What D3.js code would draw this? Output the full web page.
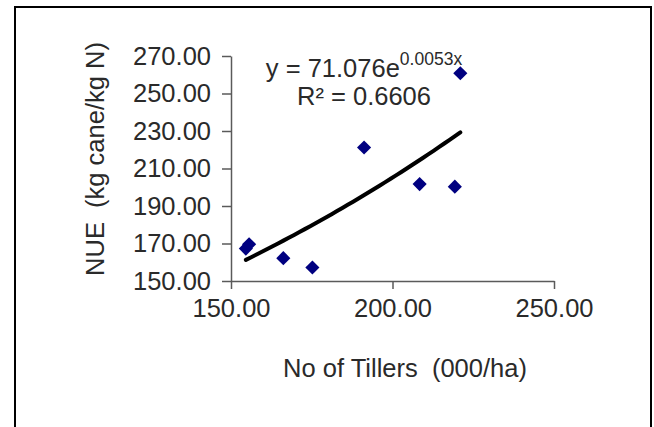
<!DOCTYPE html>
<html>
<head>
<meta charset="utf-8">
<script src="https://cdn.jsdelivr.net/npm/d3@7"></script>
<style>
  body { margin: 0; background: #fff; }
  text { font-family: "Liberation Sans", Arial, sans-serif; fill: #2a2a2a; white-space: pre; }
</style>
</head>
<body>
<div id="chart"></div>
<script>
// points
var tillers = [154.6, 155.6, 166.2, 175.2, 191.2, 208.4, 219.3, 221.0];
var nue     = [167.3, 169.6, 162.2, 157.2, 221.2, 201.7, 200.3, 260.8];

var x_ticks = [150, 200, 250];
var y_ticks = [150, 170, 190, 210, 230, 250, 270];

// exponential trendline printed on the chart: y = a * e^(b x)
var fit_a = 71.076;
var fit_b = 0.0053;
var fit_r2 = 0.6606;

var chart_width  = 654;
var chart_height = 427;

var svg = d3.select('#chart')
  .append('svg')
  .attr('width', chart_width)
  .attr('height', chart_height);

// frame
svg.append('rect')
  .attr('x', 15).attr('y', 7)
  .attr('width', 636).attr('height', 440)
  .attr('fill', 'none')
  .attr('stroke', '#000')
  .attr('stroke-width', 2);

var x_scale = d3.scaleLinear().domain([150, 250]).range([231, 554]);
var y_scale = d3.scaleLinear().domain([150, 270]).range([281, 56]);

var fmt = d3.format('.2f');

var x_axis = d3.axisBottom(x_scale).tickValues(x_ticks).tickFormat(fmt)
  .tickSizeInner(8).tickSizeOuter(0).tickPadding(10);
var y_axis = d3.axisLeft(y_scale).tickValues(y_ticks).tickFormat(fmt)
  .tickSizeInner(9).tickSizeOuter(0).tickPadding(11);

var gx = svg.append('g')
  .attr('transform', 'translate(0,' + y_scale(150) + ')')
  .call(x_axis);
var gy = svg.append('g')
  .attr('transform', 'translate(' + x_scale(150) + ',0)')
  .call(y_axis);

[gx, gy].forEach(function(g) {
  g.selectAll('path, line').attr('stroke', '#5a5a5a').attr('stroke-width', 1.5);
  g.selectAll('text')
    .style('font-family', '"Liberation Sans", Arial, sans-serif')
    .style('font-size', '25.5px')
    .attr('fill', '#2a2a2a');
});

// trendline over the data range
var x_ext = d3.extent(tillers);
var fit_pts = d3.range(0, 41).map(function(i) {
  var xv = x_ext[0] + (x_ext[1] - x_ext[0]) * i / 40;
  return [xv, fit_a * Math.exp(fit_b * xv)];
});

svg.append('path')
  .datum(fit_pts)
  .attr('fill', 'none')
  .attr('stroke', '#000')
  .attr('stroke-width', 4)
  .attr('stroke-linecap', 'round')
  .attr('d', d3.line()
    .x(function(d) { return x_scale(d[0]); })
    .y(function(d) { return y_scale(d[1]); }));

// equation labels
var eq = svg.append('text')
  .attr('x', 364).attr('y', 77)
  .attr('text-anchor', 'middle')
  .style('font-size', '25.5px');
eq.append('tspan').text('y = ' + fit_a + 'e');
eq.append('tspan').attr('dy', -12).style('font-size', '17.5px').text(fit_b + 'x');

svg.append('text')
  .attr('x', 364).attr('y', 105)
  .attr('text-anchor', 'middle')
  .style('font-size', '25.5px')
  .text('R\u00b2 = ' + fit_r2);

// diamonds
svg.selectAll('path.pt')
  .data(tillers)
  .enter()
  .append('path')
  .attr('class', 'pt')
  .attr('d', d3.symbol().type(d3.symbolSquare).size(100))
  .attr('transform', function(d, i) {
    return 'translate(' + x_scale(d) + ',' + y_scale(nue[i]) + ') rotate(45)';
  })
  .attr('fill', '#000080');

// axis titles
svg.append('text')
  .attr('x', 405).attr('y', 377)
  .attr('text-anchor', 'middle')
  .style('font-size', '25.5px')
  .text('No of Tillers  (000/ha)');

svg.append('text')
  .attr('transform', 'translate(104,159) rotate(-90)')
  .attr('text-anchor', 'middle')
  .style('font-size', '25.5px')
  .text('NUE  (kg cane/kg N)');
</script>
</body>
</html>
